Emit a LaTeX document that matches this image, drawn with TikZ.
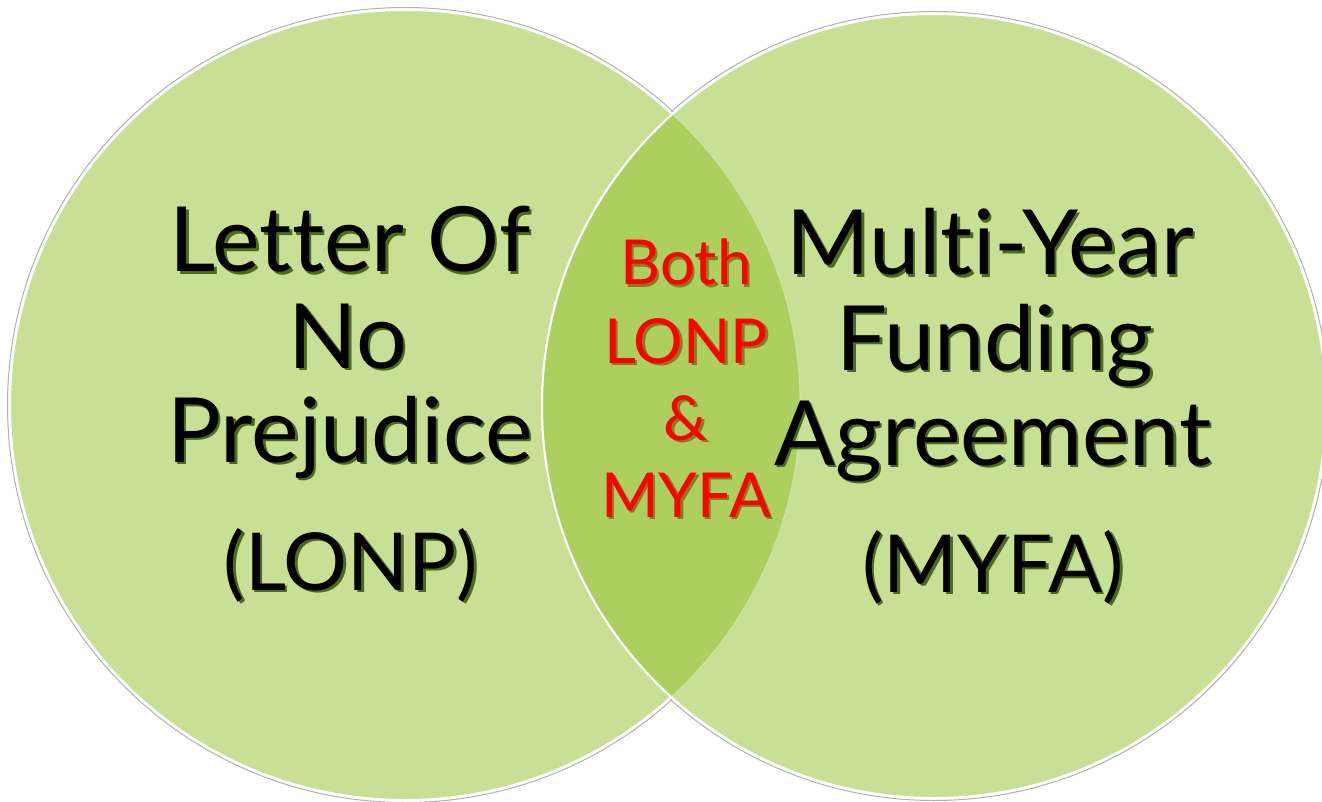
\documentclass[tikz,border=0pt]{standalone}
\usepackage{fontspec}
\setmainfont[Ligatures=NoCommon]{Lato}
\definecolor{lightgreen}{HTML}{C8E096}
\definecolor{lensgreen}{HTML}{ADCF5F}
\definecolor{shadowdark}{HTML}{4C6A18}
\definecolor{shadowred}{HTML}{8A7A1E}
\definecolor{lonpred}{HTML}{FF0000}
\newcommand{\shtxt}[2]{\leavevmode\rlap{\hspace{2.5pt}\raisebox{-2.5pt}{\textcolor{#1}{#2}}}#2}
\tikzset{
  bigtext/.style={anchor=base, inner sep=0pt, font=\fontsize{90}{95}\selectfont, text=black},
  midtext/.style={anchor=base, inner sep=0pt, font=\fontsize{80}{90}\selectfont, text=black},
  redtext/.style={anchor=base, inner sep=0pt, font=\fontsize{62}{77}\selectfont, text=lonpred},
}
\begin{document}
\begin{tikzpicture}[x=1pt,y=-1pt]
\useasboundingbox (0,0) rectangle (1322,802);
\coordinate (lc) at (405,405);
\coordinate (rc) at (934,406);
% faint outer shadows
\draw[black!30, line width=1pt] (lc) circle[radius=397.5];
\draw[black!30, line width=1pt] (rc) circle[radius=394.5];
% left circle
\fill[lightgreen] (lc) circle[radius=395];
\draw[white, line width=2pt] (lc) circle[radius=395];
% right circle
\fill[lightgreen] (rc) circle[radius=392];
\draw[white, line width=2pt] (rc) circle[radius=392];
% lens
\begin{scope}
  \clip (lc) circle[radius=395];
  \fill[lensgreen] (rc) circle[radius=392];
  \draw[white, line width=2pt] (rc) circle[radius=392];
\end{scope}
\begin{scope}
  \clip (rc) circle[radius=392];
  \draw[white, opacity=0.25, line width=1pt] (lc) circle[radius=395];
\end{scope}
% left texts
\node[bigtext] (l1) at (350,272) {\shtxt{shadowdark}{Letter Of}};
\node[bigtext] (l2) at (348,368) {\shtxt{shadowdark}{No}};
\node[bigtext] (l3) at (350,462) {\shtxt{shadowdark}{Prejudice}};
\node[midtext] (l4) at (351,590) {\shtxt{shadowdark}{(LONP)}};
% right texts
\node[bigtext] (r1) at (990,275) {\shtxt{shadowdark}{Multi-Year}};
\node[bigtext] (r2) at (995,370) {\shtxt{shadowdark}{Funding}};
\node[bigtext] (r3) at (993,465) {\shtxt{shadowdark}{Agreement}};
\node[midtext] (r4) at (993,592) {\shtxt{shadowdark}{(MYFA)}};
% middle texts
\node[redtext] (m1) at (686,285) {\shtxt{shadowred}{Both}};
\node[redtext] (m2) at (686,363) {\shtxt{shadowred}{LONP}};
\node[redtext] (m3) at (686,440) {\shtxt{shadowred}{\&}};
\node[redtext] (m4) at (686,517) {\shtxt{shadowred}{MYFA}};
\end{tikzpicture}
\end{document}
